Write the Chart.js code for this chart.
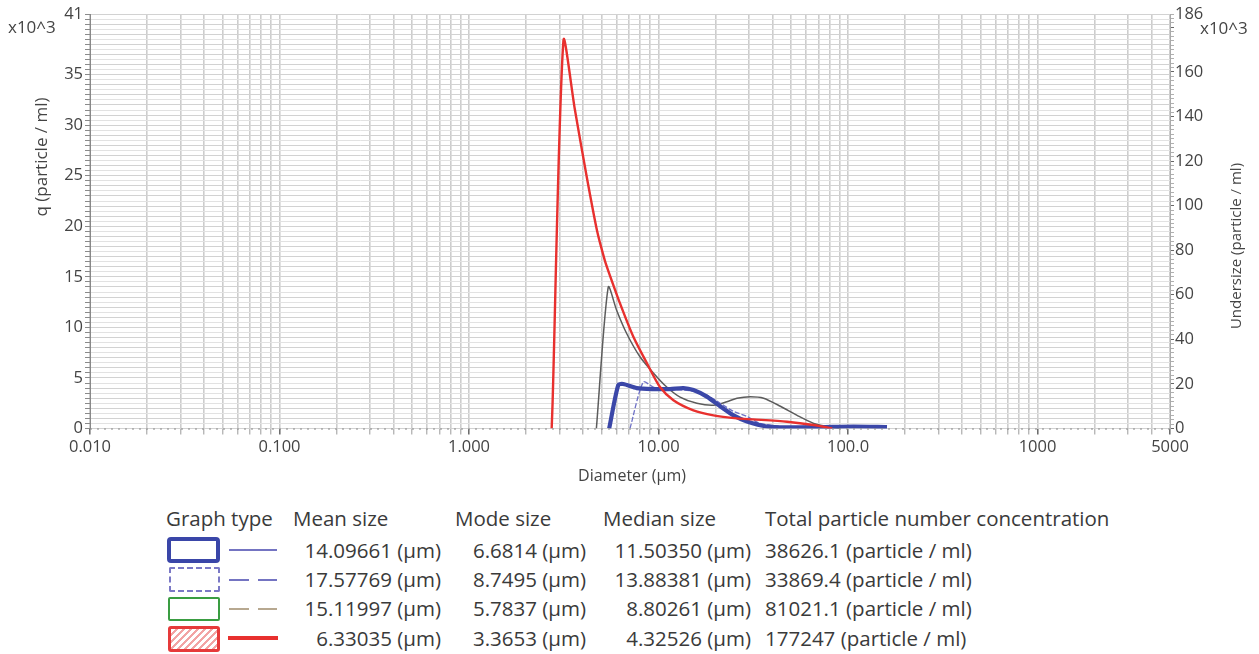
<!DOCTYPE html>
<html>
<head>
<meta charset="utf-8">
<script src="https://cdn.jsdelivr.net/npm/chart.js@4.4.1/dist/chart.umd.min.js"></script>
<style>
  html, body { margin: 0; padding: 0; background: #ffffff; }
  #wrap { position: relative; width: 1259px; height: 654px; overflow: hidden; font-family: "Open Sans", "Noto Sans", sans-serif; color: #333; }
  #c { position: absolute; left: 0; top: 0; }
  .t { position: absolute; font-size: 20.5px; line-height: 26px; white-space: nowrap; color: #3a3a3a; }
  .r { text-align: right; }
  .box { position: absolute; box-sizing: border-box; }
  .ln { position: absolute; }
</style>
</head>
<body>
<div id="wrap">
  <canvas id="c" width="1259" height="490"></canvas>
  <div id="legend"></div>
</div>
<script>
// ---------------- DATA ----------------
// Diameter (µm) and q (x10^3 particle / ml) for each measurement
const seriesNames = ["Sample 1", "Sample 2", "Sample 3", "Sample 4"];

const diam1 = [5.49, 6.13, 6.51, 7.67, 9.39, 11.5, 13.53, 15.28, 17.99, 21.15, 24.88, 29.3, 37.36, 47.7, 71.5, 106.9, 160.6];
const q1    = [0, 4.3, 4.4, 4.0, 3.9, 3.9, 4.0, 3.8, 3.15, 2.2, 1.3, 0.7, 0.2, 0.12, 0.15, 0.2, 0.15];

const diam2 = [7.07, 8.31, 9.39, 11.5, 15.28, 17.99, 21.15, 24.88, 29.3, 34.4, 43.95, 47.7];
const q2    = [0, 4.6, 4.1, 3.9, 3.7, 3.3, 2.5, 1.7, 1.2, 0.5, 0.2, 0];

const diam3 = [4.70, 5.43, 6.01, 6.79, 7.98, 9.39, 11.05, 13.0, 15.93, 19.49, 22.95, 25.93, 30.5, 35.85, 43.95, 53.85, 65.9, 77.6, 91.3];
const q3    = [0, 14.0, 11.7, 9.4, 7.1, 5.5, 4.1, 3.1, 2.5, 2.3, 2.65, 3.0, 3.15, 3.0, 2.2, 1.3, 0.5, 0.2, 0];

const diam4 = [2.73, 2.76, 3.15, 3.615, 4.17, 4.745, 5.21, 5.43, 6.256, 7.355, 8.66, 10.18, 11.98, 15.28, 19.49, 25.93, 31.6, 47.7, 65.7, 82.5];
const q4    = [0, 2.5, 38.4, 31.6, 25.0, 19.5, 16.6, 15.6, 12.4, 9.1, 6.5, 4.1, 2.8, 1.8, 1.3, 1.0, 0.9, 0.67, 0.35, 0];

// Axis ticks
const xTickValues = [0.01, 0.1, 1, 10, 100, 1000, 5000];
const xTickLabels = ["0.010", "0.100", "1.000", "10.00", "100.0", "1000", "5000"];
const yLeftLabels  = [0, 5, 10, 15, 20, 25, 30, 35, 41];
const yRightLabels = [0, 20, 40, 60, 80, 100, 120, 140, 160, 186];

// Legend table
const headers     = ["Graph type", "Mean size", "Mode size", "Median size", "Total particle number concentration"];
const meanSizes   = ["14.09661 (µm)", "17.57769 (µm)", "15.11997 (µm)", "6.33035 (µm)"];
const modeSizes   = ["6.6814 (µm)", "8.7495 (µm)", "5.7837 (µm)", "3.3653 (µm)"];
const medianSizes = ["11.50350 (µm)", "13.88381 (µm)", "8.80261 (µm)", "4.32526 (µm)"];
const totals      = ["38626.1 (particle / ml)", "33869.4 (particle / ml)", "81021.1 (particle / ml)", "177247 (particle / ml)"];

// ---------------- CHART ----------------
function pts(d, q) { return d.map((v, i) => ({ x: v, y: q[i] })); }

const textPlugin = {
  id: 'texts',
  afterDraw(chart) {
    const ctx = chart.ctx;
    const a = chart.chartArea;
    ctx.save();
    // dotted baseline of the x axis
    ctx.strokeStyle = '#8a8a8a';
    ctx.lineWidth = 1.2;
    ctx.setLineDash([2, 5]);
    ctx.beginPath();
    ctx.moveTo(a.left, a.bottom + 0.5);
    ctx.lineTo(a.right, a.bottom + 0.5);
    ctx.stroke();
    ctx.setLineDash([]);

    ctx.fillStyle = '#444';
    ctx.font = '17px "Open Sans", sans-serif';
    ctx.textAlign = 'left';
    ctx.textBaseline = 'middle';
    ctx.fillText('x10^3', 8, 28);
    ctx.fillText('x10^3', 1200, 29);
    ctx.textAlign = 'center';
    ctx.font = '16px "Open Sans", sans-serif';
    ctx.fillText('Diameter (µm)', 632, 476);
    ctx.save();
    ctx.translate(42, 157);
    ctx.rotate(-Math.PI / 2);
    ctx.font = '17px "Open Sans", sans-serif';
    ctx.fillText('q (particle / ml)', 0, 0);
    ctx.restore();
    ctx.save();
    ctx.translate(1237, 246);
    ctx.rotate(-Math.PI / 2);
    ctx.font = '15px "Open Sans", sans-serif';
    ctx.fillText('Undersize (particle / ml)', 0, 0);
    ctx.restore();
    ctx.restore();
  }
};

function isMajorX(v) {
  return xTickValues.some(t => Math.abs(t - v) / t < 1e-9);
}

const ctx = document.getElementById('c').getContext('2d');
new Chart(ctx, {
  type: 'line',
  data: {
    datasets: [
      { label: seriesNames[3], data: pts(diam4, q4), borderColor: '#e8302e', borderWidth: 2.4, order: 0 },
      { label: seriesNames[0], data: pts(diam1, q1), borderColor: '#3b47a8', borderWidth: 4.2, order: 1 },
      { label: seriesNames[1], data: pts(diam2, q2), borderColor: '#6d70c6', borderWidth: 1.3, borderDash: [5, 2], order: 2 },
      { label: seriesNames[2], data: pts(diam3, q3), borderColor: '#5c5c5c', borderWidth: 1.5, order: 3 }
    ]
  },
  options: {
    responsive: false,
    animation: false,
    devicePixelRatio: 1,
    elements: { point: { radius: 0 }, line: { tension: 0.25, fill: false } },
    layout: { padding: { top: 14, left: 0, right: 0, bottom: 0 } },
    plugins: { legend: { display: false }, tooltip: { enabled: false } },
    scales: {
      x: {
        type: 'logarithmic',
        min: 0.01, max: 5000,
        afterBuildTicks(scale) {
          const t = [];
          for (let e = -2; e <= 3; e++) {
            for (let m = 1; m <= 9; m++) {
              const v = m * Math.pow(10, e);
              if (v <= 5000 + 1e-9) t.push({ value: v });
            }
          }
          scale.ticks = t;
        },
        afterFit(scale) { scale.height = 61.5; },
        ticks: {
          autoSkip: false, maxRotation: 0, minRotation: 0, padding: 3,
          color: '#444', font: { family: 'Open Sans', size: 16.5 },
          callback(v) {
            const i = xTickValues.findIndex(t => Math.abs(t - v) / t < 1e-9);
            return i >= 0 ? xTickLabels[i] : '';
          }
        },
        grid: {
          color: '#cdcdcd', lineWidth: 1.6, drawTicks: true, tickLength: 6,
          tickColor: (c) => (c.tick && isMajorX(c.tick.value)) ? '#666' : '#9a9a9a',
          tickWidth: (c) => (c.tick && isMajorX(c.tick.value)) ? 1.5 : 1
        },
        border: { display: false }
      },
      y: {
        type: 'linear', position: 'left',
        min: 0, max: 41,
        afterBuildTicks(scale) {
          const t = [];
          for (let i = 0; i <= 82; i++) t.push({ value: i / 2 });
          scale.ticks = t;
        },
        afterFit(scale) { scale.width = 90; },
        ticks: {
          autoSkip: false, padding: 2,
          color: '#444', font: { family: 'Open Sans', size: 16.5 },
          callback(v) { return yLeftLabels.includes(v) ? String(v) : ''; }
        },
        grid: {
          color: (c) => (c.tick && Number.isInteger(c.tick.value)) ? '#d2d2d2' : '#e2e2e2',
          lineWidth: 1, drawTicks: true, tickLength: 5,
          tickColor: '#8a8a8a'
        },
        border: { display: true, color: '#888', width: 1 }
      },
      y2: {
        type: 'linear', position: 'right',
        min: 0, max: 186,
        afterBuildTicks(scale) {
          const t = [];
          for (let i = 0; i <= 186; i += 2) t.push({ value: i });
          if (t[t.length - 1].value !== 186) t.push({ value: 186 });
          scale.ticks = t;
        },
        afterFit(scale) { scale.width = 89; },
        ticks: {
          autoSkip: false, padding: 1,
          color: '#444', font: { family: 'Open Sans', size: 16.5 },
          callback(v) { return yRightLabels.includes(v) ? String(v) : ''; }
        },
        grid: {
          drawOnChartArea: false, drawTicks: true, tickLength: 4,
          tickColor: (c) => (c.tick && c.tick.value % 20 === 0) ? '#666' : '#b0b0b0'
        },
        border: { display: true, color: '#aaa', width: 1 }
      }
    }
  },
  plugins: [textPlugin]
});

// ---------------- LEGEND TABLE ----------------
const legend = document.getElementById('legend');
function addText(txt, left, top, width, right) {
  const d = document.createElement('div');
  d.className = 't' + (right ? ' r' : '');
  d.textContent = txt;
  d.style.left = left + 'px';
  d.style.top = top + 'px';
  if (width) d.style.width = width + 'px';
  legend.appendChild(d);
}
const headerX = [166, 293, 455, 603, 765];
headers.forEach((h, i) => addText(h, headerX[i], 505));
const rowY = [550, 579, 608, 638];
rowY.forEach((cy, i) => {
  const top = cy - 13;
  addText(meanSizes[i], 260, top, 181, true);
  addText(modeSizes[i], 420, top, 166, true);
  addText(medianSizes[i], 570, top, 181, true);
  addText(totals[i], 765, top);
});

function addBox(style) {
  const d = document.createElement('div');
  d.className = 'box';
  Object.assign(d.style, style);
  legend.appendChild(d);
}
addBox({ left: '167px', top: '537px', width: '53px', height: '26px', border: '4px solid #3a46a8', borderRadius: '4px' });
addBox({ left: '169px', top: '567px', width: '51px', height: '25px', border: '2px dashed #7b79c6', borderRadius: '2px' });
addBox({ left: '168px', top: '597px', width: '52px', height: '24px', border: '2px solid #3a9d42', borderRadius: '2px' });
addBox({ left: '168px', top: '626px', width: '52px', height: '26px', border: '3px solid #e63a3a', borderRadius: '3px',
  background: 'repeating-linear-gradient(135deg, #ffffff 0px, #ffffff 3px, #f2a4a4 3px, #f2a4a4 5px)' });

function addLine(left, top, width, h, color) {
  const d = document.createElement('div');
  d.className = 'ln';
  Object.assign(d.style, { left: left + 'px', top: top + 'px', width: width + 'px', height: h + 'px', background: color });
  legend.appendChild(d);
}
addLine(229, 549, 48, 1.5, '#7474c2');
addLine(229, 579, 20, 1.5, '#7474c2'); addLine(258, 579, 19, 1.5, '#7474c2');
addLine(229, 608, 20, 1.5, '#b7a890'); addLine(258, 608, 19, 1.5, '#b7a890');
addLine(228, 636, 50, 3.5, '#e8302e');
</script>
</body>
</html>
